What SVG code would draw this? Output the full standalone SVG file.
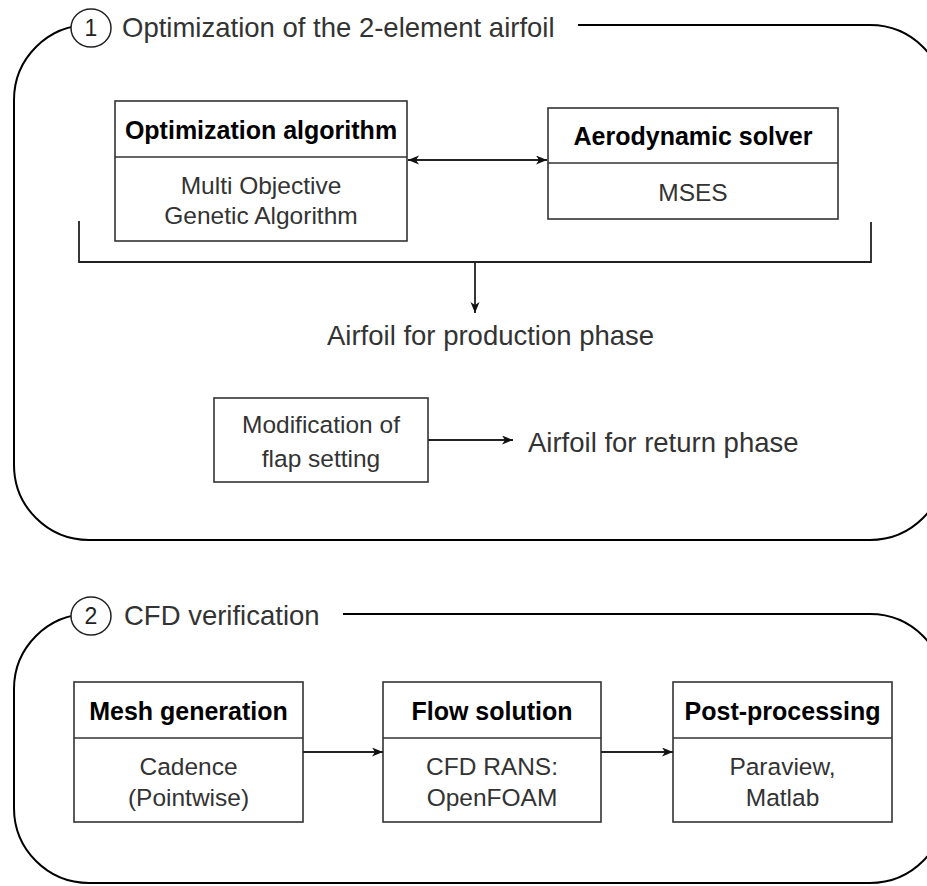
<svg xmlns="http://www.w3.org/2000/svg" width="927" height="886" viewBox="0 0 927 886">
<style>
.frame{fill:none;stroke:#000;stroke-width:2}
.num{fill:#fff;stroke:#222;stroke-width:1.5}
.box{fill:#fff;stroke:#333;stroke-width:1.6}
.div{stroke:#333;stroke-width:1.6}
.conn{fill:none;stroke:#222;stroke-width:1.8}
text{font-family:"Liberation Sans",Arial,sans-serif}
.hd{font-size:25px;font-weight:bold;fill:#000;text-anchor:middle}
.bd{font-size:24.5px;fill:#333;text-anchor:middle}
.big{font-size:27.5px;fill:#333}
.n{font-size:23px;fill:#222;text-anchor:middle}
</style>
<defs>
<marker id="ah" markerUnits="userSpaceOnUse" markerWidth="12" markerHeight="10" refX="11" refY="4.5" orient="auto-start-reverse">
<path d="M0,0 L11,4.5 L0,9 L3,4.5 Z" fill="#111"/>
</marker>
</defs>

<g id="frame1">
<path class="frame" d="M578,25 H870 A75,75 0 0 1 945,100 V465 A75,75 0 0 1 870,540 H89 A75,75 0 0 1 14,465 V100 A75,75 0 0 1 89,25"/>
<ellipse class="num" cx="91" cy="28" rx="20" ry="19"/>
<text class="n" x="91" y="36">1</text>
<text class="big" x="122" y="37">Optimization of the 2-element airfoil</text>
</g>

<g id="frame2">
<path class="frame" d="M343,614 H870 A75,75 0 0 1 945,689 V808 A75,75 0 0 1 870,883 H89 A75,75 0 0 1 14,808 V689 A75,75 0 0 1 89,614"/>
<ellipse class="num" cx="91" cy="616" rx="20" ry="19"/>
<text class="n" x="91" y="624">2</text>
<text class="big" x="124" y="625">CFD verification</text>
</g>

<g id="opt-algorithm">
<rect class="box" x="115" y="101" width="292" height="140"/>
<line class="div" x1="115" y1="157" x2="407" y2="157"/>
<text class="hd" x="261" y="139">Optimization algorithm</text>
<text class="bd" x="261" y="194">Multi Objective</text>
<text class="bd" x="261" y="224">Genetic Algorithm</text>
</g>

<g id="aero-solver">
<rect class="box" x="548" y="108" width="290" height="111"/>
<line class="div" x1="548" y1="163" x2="838" y2="163"/>
<text class="hd" x="693" y="145">Aerodynamic solver</text>
<text class="bd" x="693" y="201">MSES</text>
</g>

<g id="production-label">
<text class="big" x="327" y="345">Airfoil for production phase</text>
</g>

<g id="flap-mod">
<rect class="box" x="214" y="398" width="214" height="84"/>
<text class="bd" x="321" y="433">Modification of</text>
<text class="bd" x="321" y="467">flap setting</text>
</g>

<g id="return-label">
<text class="big" x="528" y="452">Airfoil for return phase</text>
</g>

<g id="mesh">
<rect class="box" x="74" y="682" width="229" height="140"/>
<line class="div" x1="74" y1="738" x2="303" y2="738"/>
<text class="hd" x="188.5" y="720">Mesh generation</text>
<text class="bd" x="188.5" y="775">Cadence</text>
<text class="bd" x="188.5" y="806">(Pointwise)</text>
</g>

<g id="flow">
<rect class="box" x="383" y="682" width="218" height="140"/>
<line class="div" x1="383" y1="738" x2="601" y2="738"/>
<text class="hd" x="492" y="720">Flow solution</text>
<text class="bd" x="492" y="775">CFD RANS:</text>
<text class="bd" x="492" y="806">OpenFOAM</text>
</g>

<g id="post">
<rect class="box" x="673" y="682" width="219" height="140"/>
<line class="div" x1="673" y1="738" x2="892" y2="738"/>
<text class="hd" x="782.5" y="720">Post-processing</text>
<text class="bd" x="782.5" y="775">Paraview,</text>
<text class="bd" x="782.5" y="806">Matlab</text>
</g>

<g id="connectors">
<line class="conn" x1="408" y1="160" x2="547" y2="160" marker-start="url(#ah)" marker-end="url(#ah)"/>
<path class="conn" d="M79,221 V262 H871 V222"/>
<line class="conn" x1="475" y1="262" x2="475" y2="313" marker-end="url(#ah)"/>
<line class="conn" x1="428" y1="440" x2="513" y2="440" marker-end="url(#ah)"/>
<line class="conn" x1="303" y1="752" x2="383" y2="752" marker-end="url(#ah)"/>
<line class="conn" x1="601" y1="752" x2="673" y2="752" marker-end="url(#ah)"/>
</g>
</svg>
